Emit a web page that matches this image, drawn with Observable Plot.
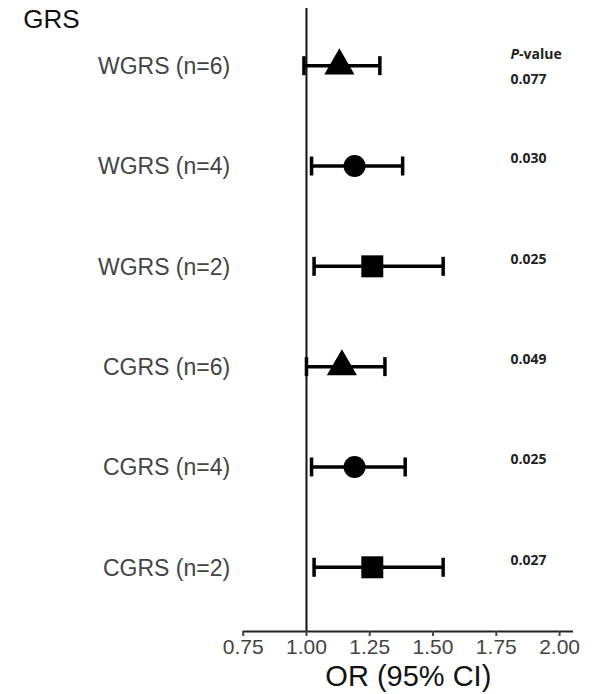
<!DOCTYPE html>
<html>
<head>
<meta charset="utf-8">
<script src="https://cdn.jsdelivr.net/npm/d3@7"></script>
<script src="https://cdn.jsdelivr.net/npm/@observablehq/plot@0.6"></script>
<style>
  html, body { margin: 0; padding: 0; background: #fff; }
  #chart svg { display: block; }
</style>
</head>
<body>
<div id="chart"></div>
<script>
// ---- data ----
const labels = ["WGRS (n=6)", "WGRS (n=4)", "WGRS (n=2)", "CGRS (n=6)", "CGRS (n=4)", "CGRS (n=2)"];
const orValues = [1.13, 1.19, 1.26, 1.14, 1.19, 1.26];
const ciLow = [0.99, 1.02, 1.03, 1.00, 1.02, 1.03];
const ciHigh = [1.29, 1.38, 1.54, 1.31, 1.39, 1.54];
const pValues = ["0.077", "0.030", "0.025", "0.049", "0.025", "0.027"];
const shapes = ["triangle", "circle", "square", "triangle", "circle", "square"];
const xTicks = [0.75, 1.00, 1.25, 1.50, 1.75, 2.00];
const title = "GRS";
const xLabel = "OR (95% CI)";
const pHeader = "P-value";

const rows = labels.map((label, i) => ({
  i, label, or: orValues[i], lo: ciLow[i], hi: ciHigh[i], p: pValues[i], shape: shapes[i]
}));

const FONT = "'Liberation Sans', Arial, sans-serif";
const PFONT = "'Open Sans', 'Noto Sans', sans-serif";

// vertical cap symbol for whisker ends
const capSymbol = {
  draw(context, size) {
    const h = Math.sqrt(size) / 2;
    context.moveTo(0, -h);
    context.lineTo(0, h);
  }
};

const bottomY = 5.64;

const chart = Plot.plot({
  width: 592,
  height: 694,
  marginLeft: 242.7,
  marginRight: 19,
  marginTop: 8,
  marginBottom: 63,
  style: { fontFamily: FONT, background: "#fff", overflow: "visible" },
  x: { domain: [0.75, 2.055], axis: null },
  y: { domain: [-0.57, bottomY], reverse: true, axis: null },
  marks: [
    // reference line at OR = 1
    Plot.ruleX([1], { stroke: "#111", strokeWidth: 2 }),
    // x axis baseline
    Plot.ruleY([bottomY], { stroke: "#222", strokeWidth: 2 }),
    Plot.axisX({
      ticks: xTicks,
      tickFormat: d3.format(".2f"),
      tickSize: 5,
      tickPadding: 3,
      fontSize: 21,
      fill: "#444",
      stroke: "#444",
      strokeWidth: 2
    }),
    Plot.text([xLabel], {
      frameAnchor: "bottom", dx: 0, dy: 54, fontSize: 29, fill: "#111", fontFamily: FONT
    }),
    // title
    Plot.text([title], {
      frameAnchor: "top-left", dx: -220, dy: 1, textAnchor: "start", lineAnchor: "top",
      fontSize: 26, fill: "#111", fontFamily: FONT
    }),
    // row labels
    Plot.text(rows, {
      y: "i", text: "label", frameAnchor: "left", textAnchor: "end", dx: -13, dy: 1,
      fontSize: 23, fill: "#444", fontFamily: FONT
    }),
    // whiskers
    Plot.ruleY(rows, { y: "i", x1: "lo", x2: "hi", stroke: "#000", strokeWidth: 3.5 }),
    Plot.dot(rows, { x: "lo", y: "i", symbol: capSymbol, r: 10.7, stroke: "#000", strokeWidth: 3.5, fill: "none" }),
    Plot.dot(rows, { x: "hi", y: "i", symbol: capSymbol, r: 10.7, stroke: "#000", strokeWidth: 3.5, fill: "none" }),
    // point estimates
    Plot.dot(rows.filter(d => d.shape === "triangle"), { x: "or", y: "i", symbol: "triangle", r: 11.2, fill: "#000", stroke: "none" }),
    Plot.dot(rows.filter(d => d.shape === "circle"), { x: "or", y: "i", symbol: "circle", r: 11, fill: "#000", stroke: "none" }),
    Plot.dot(rows.filter(d => d.shape === "square"), { x: "or", y: "i", symbol: "square", r: 12.4, fill: "#000", stroke: "none" }),
    // p-values
    Plot.text(rows.filter(d => d.i === 0), {
      y: "i", text: "p", frameAnchor: "right", textAnchor: "start", dx: -63, dy: 14,
      fontSize: 14, fontWeight: "bold", fill: "#222", fontFamily: PFONT
    }),
    Plot.text(rows.filter(d => d.i > 0), {
      y: "i", text: "p", frameAnchor: "right", textAnchor: "start", dx: -63, dy: -7,
      fontSize: 14, fontWeight: "bold", fill: "#222", fontFamily: PFONT
    }),
    Plot.text(rows.filter(d => d.i === 0), {
      y: "i", text: () => pHeader, frameAnchor: "right", textAnchor: "start", dx: -63, dy: -11,
      fontSize: 14, fontWeight: "bold", fill: "#222", fontFamily: PFONT
    })
  ]
});

document.getElementById("chart").appendChild(chart);

// italicise the "P" in the P-value header (text content kept as real text)
d3.select(chart).selectAll("text").each(function () {
  const t = d3.select(this);
  if (t.text() === pHeader && this.childNodes.length === 1) {
    t.text(null);
    t.append("tspan").attr("font-style", "italic").text("P");
    t.append("tspan").text("-value");
  }
});
</script>
</body>
</html>
